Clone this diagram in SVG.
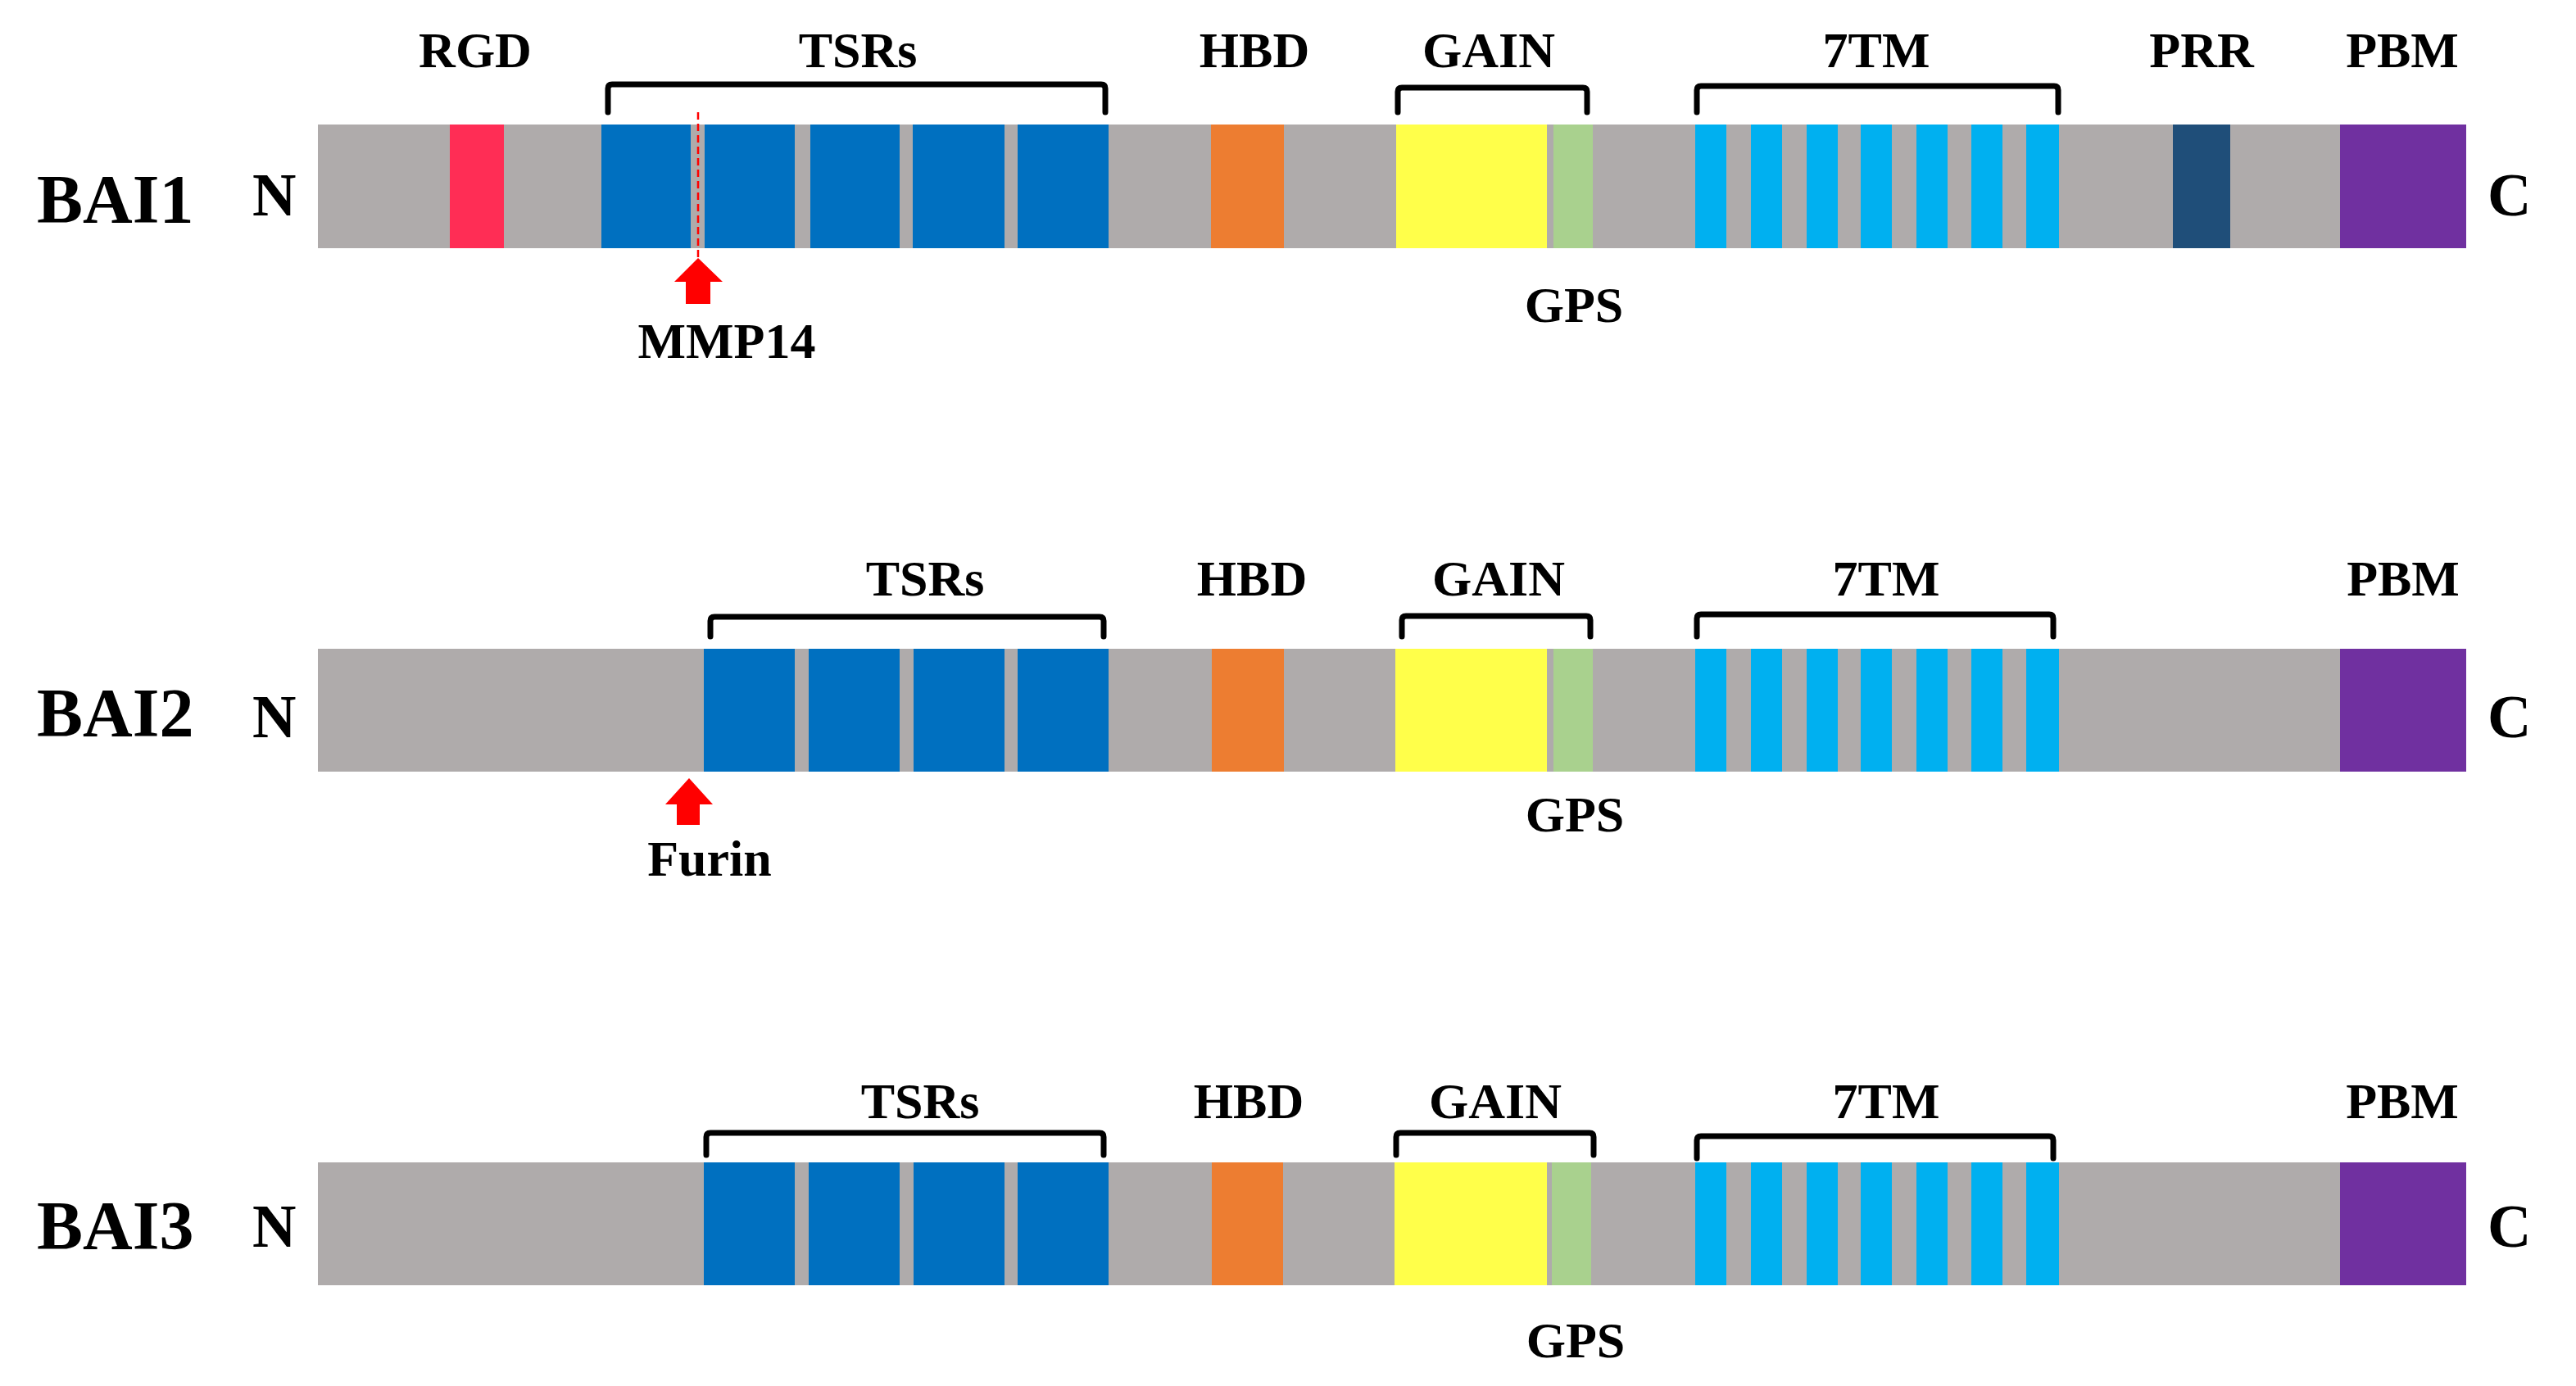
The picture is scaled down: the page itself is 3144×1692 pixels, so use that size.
<svg xmlns="http://www.w3.org/2000/svg" width="3144" height="1692" viewBox="0 0 3144 1692">
<style>
text{font-family:"Liberation Serif","DejaVu Serif",serif;font-weight:bold;fill:#000}
.lbl{font-size:62px;text-anchor:middle}
.name{font-size:84px}
.term{font-size:74px}
.bar{fill:#AFABAB}
.tsr{fill:#0070C0}
.tm{fill:#00B0F0}
.hbd{fill:#ED7D31}
.gain{fill:#FFFF4A}
.gps{fill:#A9D18E}
.rgd{fill:#FF2D55}
.prr{fill:#1F4E79}
.pbm{fill:#7030A0}
.brk{fill:none;stroke:#000;stroke-width:7;stroke-linejoin:round;stroke-linecap:round}
.arr{fill:#FF0000}
</style>
<rect width="3144" height="1692" fill="#fff"/>

<g id="BAI1">
  <text class="name" x="45" y="272">BAI1</text>
  <text class="term" x="308" y="263">N</text>
  <text class="term" x="3036" y="263">C</text>
  <rect class="bar" x="388" y="152" width="2622" height="151"/>
  <g id="BAI1-RGD"><rect class="rgd" x="549" y="152" width="66" height="151"/><text class="lbl" x="580" y="82">RGD</text></g>
  <g id="BAI1-TSRs">
    <rect class="tsr" x="734" y="152" width="109" height="151"/>
    <rect class="tsr" x="860" y="152" width="110" height="151"/>
    <rect class="tsr" x="989" y="152" width="109" height="151"/>
    <rect class="tsr" x="1114" y="152" width="112" height="151"/>
    <rect class="tsr" x="1242" y="152" width="111" height="151"/>
    <path class="brk" d="M742 137 V108 Q742 103 747 103 H1344 Q1349 103 1349 108 V137"/>
    <text class="lbl" x="1047" y="82">TSRs</text>
  </g>
  <g id="BAI1-HBD"><rect class="hbd" x="1478" y="152" width="89" height="151"/><text class="lbl" x="1531" y="82">HBD</text></g>
  <g id="BAI1-GAIN">
    <rect class="gain" x="1704" y="152" width="184" height="151"/>
    <path class="brk" d="M1706 137 V112 Q1706 107 1711 107 H1932 Q1937 107 1937 112 V137"/>
    <text class="lbl" x="1817" y="82">GAIN</text>
  </g>
  <g id="BAI1-GPS"><rect class="gps" x="1896" y="152" width="48" height="151"/><text class="lbl" x="1921" y="393">GPS</text></g>
  <g id="BAI1-7TM">
    <rect class="tm" x="2069" y="152" width="38" height="151"/>
    <rect class="tm" x="2137" y="152" width="38" height="151"/>
    <rect class="tm" x="2205" y="152" width="38" height="151"/>
    <rect class="tm" x="2271" y="152" width="38" height="151"/>
    <rect class="tm" x="2339" y="152" width="38" height="151"/>
    <rect class="tm" x="2406" y="152" width="38" height="151"/>
    <rect class="tm" x="2473" y="152" width="40" height="151"/>
    <path class="brk" d="M2071 137 V110 Q2071 105 2076 105 H2507 Q2512 105 2512 110 V137"/>
    <text class="lbl" x="2290" y="82">7TM</text>
  </g>
  <g id="BAI1-PRR"><rect class="prr" x="2652" y="152" width="70" height="151"/><text class="lbl" x="2687" y="82">PRR</text></g>
  <g id="BAI1-PBM"><rect class="pbm" x="2856" y="152" width="154" height="151"/><text class="lbl" x="2932" y="82">PBM</text></g>
  <g id="BAI1-MMP14"><text class="lbl" x="887" y="437">MMP14</text></g>
</g>

<g id="BAI2">
  <text class="name" x="45" y="899">BAI2</text>
  <text class="term" x="308" y="900">N</text>
  <text class="term" x="3036" y="900">C</text>
  <rect class="bar" x="388" y="792" width="2622" height="150"/>
  <g id="BAI2-TSRs">
    <rect class="tsr" x="859" y="792" width="111" height="150"/>
    <rect class="tsr" x="987" y="792" width="111" height="150"/>
    <rect class="tsr" x="1115" y="792" width="111" height="150"/>
    <rect class="tsr" x="1242" y="792" width="111" height="150"/>
    <path class="brk" d="M867 777 V758 Q867 753 872 753 H1342 Q1347 753 1347 758 V777"/>
    <text class="lbl" x="1129" y="727">TSRs</text>
  </g>
  <g id="BAI2-HBD"><rect class="hbd" x="1479" y="792" width="88" height="150"/><text class="lbl" x="1528" y="727">HBD</text></g>
  <g id="BAI2-GAIN">
    <rect class="gain" x="1703" y="792" width="185" height="150"/>
    <path class="brk" d="M1711 777 V757 Q1711 752 1716 752 H1936 Q1941 752 1941 757 V777"/>
    <text class="lbl" x="1829" y="727">GAIN</text>
  </g>
  <g id="BAI2-GPS"><rect class="gps" x="1896" y="792" width="48" height="150"/><text class="lbl" x="1922" y="1015">GPS</text></g>
  <g id="BAI2-7TM">
    <rect class="tm" x="2069" y="792" width="38" height="150"/>
    <rect class="tm" x="2137" y="792" width="38" height="150"/>
    <rect class="tm" x="2205" y="792" width="38" height="150"/>
    <rect class="tm" x="2271" y="792" width="38" height="150"/>
    <rect class="tm" x="2339" y="792" width="38" height="150"/>
    <rect class="tm" x="2406" y="792" width="38" height="150"/>
    <rect class="tm" x="2473" y="792" width="40" height="150"/>
    <path class="brk" d="M2071 777 V755 Q2071 750 2076 750 H2501 Q2506 750 2506 755 V777"/>
    <text class="lbl" x="2302" y="727">7TM</text>
  </g>
  <g id="BAI2-PBM"><rect class="pbm" x="2856" y="792" width="154" height="150"/><text class="lbl" x="2933" y="727">PBM</text></g>
  <g id="BAI2-Furin"><text class="lbl" x="866" y="1069">Furin</text></g>
</g>

<g id="BAI3">
  <text class="name" x="45" y="1525">BAI3</text>
  <text class="term" x="308" y="1522">N</text>
  <text class="term" x="3036" y="1522">C</text>
  <rect class="bar" x="388" y="1419" width="2622" height="150"/>
  <g id="BAI3-TSRs">
    <rect class="tsr" x="859" y="1419" width="111" height="150"/>
    <rect class="tsr" x="987" y="1419" width="111" height="150"/>
    <rect class="tsr" x="1115" y="1419" width="111" height="150"/>
    <rect class="tsr" x="1242" y="1419" width="111" height="150"/>
    <path class="brk" d="M862 1410 V1388 Q862 1383 867 1383 H1342 Q1347 1383 1347 1388 V1410"/>
    <text class="lbl" x="1123" y="1365">TSRs</text>
  </g>
  <g id="BAI3-HBD"><rect class="hbd" x="1479" y="1419" width="87" height="150"/><text class="lbl" x="1524" y="1365">HBD</text></g>
  <g id="BAI3-GAIN">
    <rect class="gain" x="1702" y="1419" width="186" height="150"/>
    <path class="brk" d="M1704 1410 V1388 Q1704 1383 1709 1383 H1940 Q1945 1383 1945 1388 V1410"/>
    <text class="lbl" x="1825" y="1365">GAIN</text>
  </g>
  <g id="BAI3-GPS"><rect class="gps" x="1894" y="1419" width="48" height="150"/><text class="lbl" x="1923" y="1657">GPS</text></g>
  <g id="BAI3-7TM">
    <rect class="tm" x="2069" y="1419" width="38" height="150"/>
    <rect class="tm" x="2137" y="1419" width="38" height="150"/>
    <rect class="tm" x="2205" y="1419" width="38" height="150"/>
    <rect class="tm" x="2271" y="1419" width="38" height="150"/>
    <rect class="tm" x="2339" y="1419" width="38" height="150"/>
    <rect class="tm" x="2406" y="1419" width="38" height="150"/>
    <rect class="tm" x="2473" y="1419" width="40" height="150"/>
    <path class="brk" d="M2071 1414 V1392 Q2071 1387 2076 1387 H2501 Q2506 1387 2506 1392 V1414"/>
    <text class="lbl" x="2302" y="1365">7TM</text>
  </g>
  <g id="BAI3-PBM"><rect class="pbm" x="2856" y="1419" width="154" height="150"/><text class="lbl" x="2932" y="1365">PBM</text></g>
</g>

<g id="connectors">
  <line x1="852" y1="137" x2="852" y2="315" stroke="#FF0000" stroke-width="2.5" stroke-dasharray="9 5"/>
  <polygon class="arr" points="852,315 882,344 867,344 867,371 837,371 837,344 823,344"/>
  <polygon class="arr" points="841,950 870,982 854,982 854,1007 826,1007 826,982 812,982"/>
</g>
</svg>
